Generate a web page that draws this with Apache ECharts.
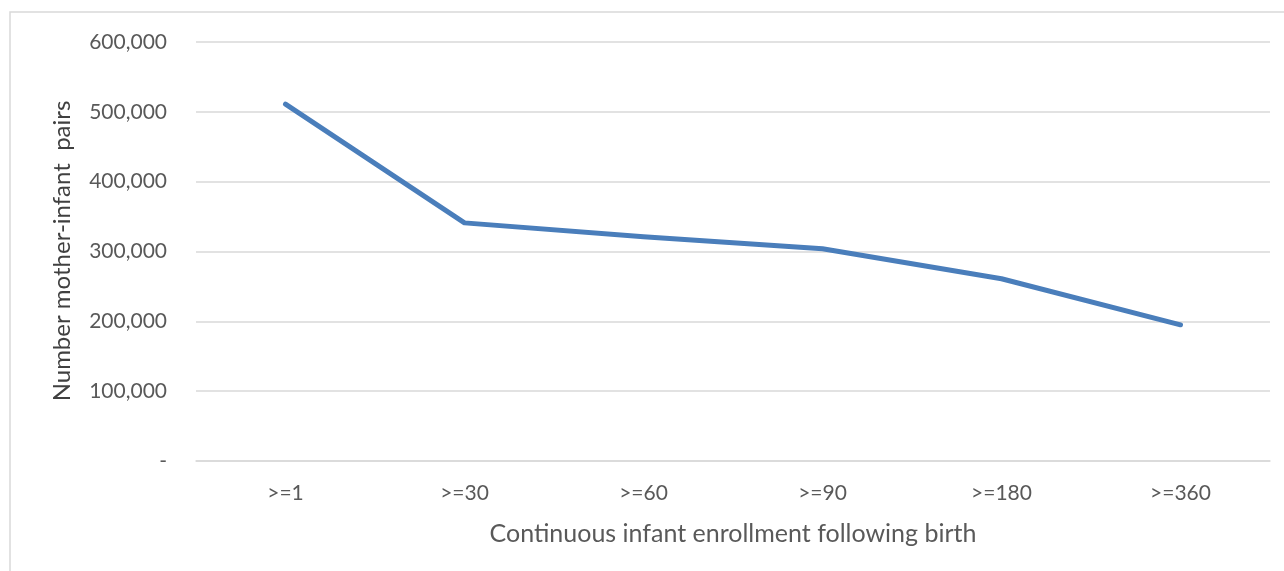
<!DOCTYPE html>
<html>
<head>
<meta charset="utf-8">
<script src="https://cdn.jsdelivr.net/npm/echarts@6/dist/echarts.min.js"></script>
<style>
html, body { margin: 0; padding: 0; background: #fff; }
#chart { width: 1284px; height: 571px; }
</style>
</head>
<body>
<div id="chart"></div>
<script>
// Enrollment thresholds (days of continuous infant enrollment)
const categories = ['>=1', '>=30', '>=60', '>=90', '>=180', '>=360'];
// Number of mother-infant pairs at each threshold
const pairs = [511000, 341000, 321000, 304000, 261000, 195000];

const font = 'Lato, "Open Sans", sans-serif';
const chart = echarts.init(document.getElementById('chart'), null, { renderer: 'canvas' });

chart.setOption({
  animation: false,
  backgroundColor: '#ffffff',
  graphic: [{
    type: 'rect',
    shape: { x: 10, y: 12, width: 1290, height: 580 },
    style: { fill: 'none', stroke: '#d9d9d9', lineWidth: 1.5 },
    silent: true
  }, {
    // vertical axis title, centred on the plot area
    type: 'text',
    x: 62, y: 251,
    rotation: Math.PI / 2,
    style: {
      text: 'Number mother-infant  pairs',
      fontFamily: font, fontSize: 24, fill: '#404040',
      align: 'center', verticalAlign: 'middle'
    },
    silent: true
  }],
  grid: { left: 196, right: 14, top: 42, bottom: 110 },
  xAxis: {
    type: 'category',
    data: categories,
    boundaryGap: true,
    name: 'Continuous infant enrollment following birth',
    nameLocation: 'middle',
    nameGap: 60,
    nameTextStyle: { fontFamily: font, fontSize: 25, color: '#595959' },
    axisLine: { show: true, lineStyle: { color: '#d9d9d9', width: 1.5 } },
    axisTick: { show: false },
    axisLabel: { fontFamily: font, fontSize: 21, color: '#595959', margin: 22 }
  },
  yAxis: {
    type: 'value',
    min: 0,
    max: 600000,
    interval: 100000,
    axisLine: { show: false },
    axisTick: { show: false },
    splitLine: { lineStyle: { color: '#d9d9d9', width: 1.5 } },
    axisLabel: {
      fontFamily: font, fontSize: 21, color: '#595959', margin: 29,
      formatter: v => v === 0 ? '-' : v.toLocaleString('en-US')
    }
  },
  series: [{
    type: 'line',
    data: pairs,
    symbol: 'none',
    lineStyle: { color: '#4a7ebb', width: 5, cap: 'round', join: 'round' }
  }]
});
</script>
</body>
</html>
